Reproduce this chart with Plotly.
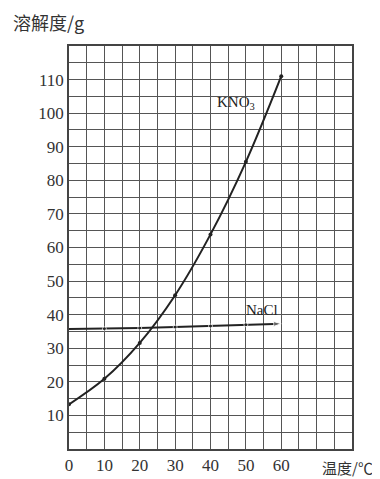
import plotly.graph_objects as go

temps = [0, 10, 20, 30, 40, 50, 60]
kno3 = [13.3, 20.9, 31.6, 45.8, 63.9, 85.5, 111]
nacl = [35.7, 35.8, 36.0, 36.3, 36.6, 37.0, 37.3]

x_ticks = list(range(0, 85, 5))
x_labels = [str(v) if v % 10 == 0 and v <= 60 else "" for v in x_ticks]
y_ticks = list(range(0, 125, 5))
y_labels = [str(v) if v % 10 == 0 and 10 <= v <= 110 else "" for v in y_ticks]

serif = "Liberation Serif"
cjk = "Noto Sans CJK SC"
ink = "#222222"

fig = go.Figure()
fig.add_trace(go.Scatter(
    x=temps, y=kno3, mode="lines+markers", line=dict(color=ink, width=2, shape="spline"),
    marker=dict(size=4, color=ink), showlegend=False, hoverinfo="skip"))
fig.add_trace(go.Scatter(
    x=temps, y=nacl, mode="lines+markers", line=dict(color=ink, width=2),
    marker=dict(size=[4, 4, 4, 4, 4, 4, 8], color=ink,
                symbol=["circle"] * 6 + ["arrow"], angleref="previous"),
    showlegend=False, hoverinfo="skip"))

fig.add_annotation(x=47.2, y=103, text="KNO<sub>3</sub>", showarrow=False,
                   font=dict(family=serif, size=15, color=ink))
fig.add_annotation(x=54.5, y=41.5, text="NaCl", showarrow=False,
                   font=dict(family=serif, size=15, color=ink))
fig.add_annotation(xref="paper", yref="paper", x=-0.205, y=1.06, xanchor="left", yanchor="middle",
                   text="溶解度/g", showarrow=False, font=dict(family=cjk, size=18, color="#333"))
fig.add_annotation(xref="paper", yref="paper", x=1.082, y=-0.045, xanchor="right", yanchor="middle",
                   text="温度/℃", showarrow=False, font=dict(family=cjk, size=15, color="#333"))

axis_common = dict(showgrid=True, gridcolor="#555555", gridwidth=1.3, zeroline=False,
                   showline=True, linecolor="#444444", linewidth=1.5, mirror=True,
                   ticks="", tickfont=dict(family=serif, size=17, color="#333"), fixedrange=True)
fig.update_xaxes(range=[0, 80], tickmode="array", tickvals=x_ticks, ticktext=x_labels, **axis_common)
fig.update_yaxes(range=[0, 120], tickmode="array", tickvals=y_ticks, ticktext=y_labels, **axis_common)

fig.update_layout(width=380, height=479, margin=dict(l=61, r=36, t=38, b=21),
                  paper_bgcolor="white", plot_bgcolor="white")
fig.write_html("out.html")
